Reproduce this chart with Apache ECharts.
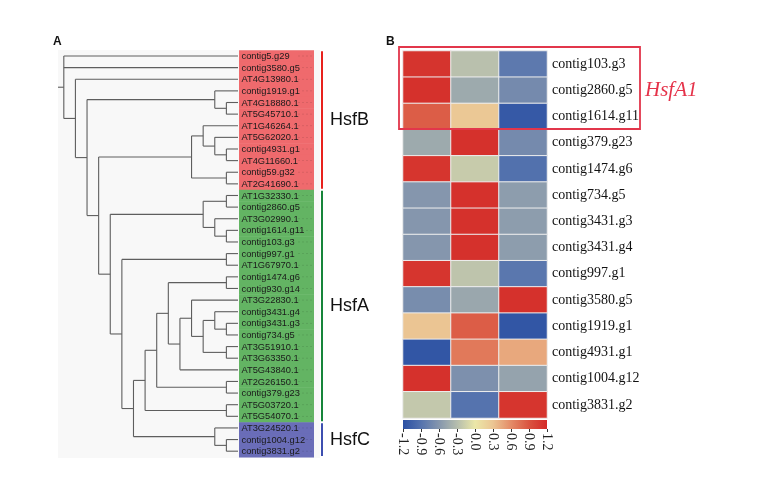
<!DOCTYPE html>
<html><head><meta charset="utf-8">
<script src="https://cdn.jsdelivr.net/npm/echarts@6/dist/echarts.min.js"></script>
<style>html,body{margin:0;padding:0;background:#fff}#c{width:759px;height:477px}</style>
</head><body><div id="c"></div>
<script>
// ---------- DATA ----------
// Dendrogram topology (nested clades), leaves in drawing order
const tree = ['contig5.g29', 'contig3580.g5',
  ['AT4G13980.1',
    [
      ['contig1919.g1', ['AT4G18880.1', 'AT5G45710.1']],
      [
        [['AT1G46264.1', ['AT5G62020.1', ['contig4931.g1', 'AT4G11660.1']]], ['contig59.g32', 'AT2G41690.1']],
        [
          [['AT1G32330.1', 'contig2860.g5'], ['AT3G02990.1', ['contig1614.g11', 'contig103.g3']]],
          [['contig997.g1', 'AT1G67970.1'],
            [
              [
                [
                  [['contig1474.g6', 'contig930.g14'],
                    [['AT3G22830.1', [['contig3431.g4', ['contig3431.g3', 'contig734.g5']], ['AT3G51910.1', 'AT3G63350.1']]], 'AT5G43840.1']
                  ],
                  ['AT2G26150.1', 'contig379.g23']
                ],
                ['AT5G03720.1', 'AT5G54070.1']
              ],
              ['AT3G24520.1', ['contig1004.g12', 'contig3831.g2']]
            ]
          ]
        ]
      ]
    ]
  ]
];
const groupNames = ['HsfB', 'HsfA', 'HsfC'];
const groupSizes = [12, 20, 3];
const groupBoxColors = ['#ef6a6d', '#63b463', '#6a6db8'];
const groupLineColors = ['#e8211d', '#17853a', '#3d4fb0'];

const heatRows = ['contig103.g3', 'contig2860.g5', 'contig1614.g11', 'contig379.g23', 'contig1474.g6',
  'contig734.g5', 'contig3431.g3', 'contig3431.g4', 'contig997.g1', 'contig3580.g5',
  'contig1919.g1', 'contig4931.g1', 'contig1004.g12', 'contig3831.g2'];
const heatCols = ['S1', 'S2', 'S3'];
const heatColA = [1.13, 1.15, 0.85, -0.45, 1.12, -0.6, -0.6, -0.6, 1.12, -0.68, 0.3, -1.15, 1.15, -0.22];
const heatColB = [-0.28, -0.45, 0.27, 1.15, -0.2, 1.15, 1.15, 1.15, -0.25, -0.47, 0.85, 0.7, -0.65, -0.9];
const heatColC = [-0.85, -0.7, -1.12, -0.7, -0.92, -0.55, -0.55, -0.55, -0.87, 1.15, -1.15, 0.45, -0.5, 1.12];
const colorbarTicks = ['-1.2', '-0.9', '-0.6', '-0.3', '0.0', '0.3', '0.6', '0.9', '1.2'];
const cmap = ['#2b50a3', '#5573ae', '#8596ad', '#b5bdad', '#ebe7a8', '#ebc593', '#e48b67', '#da5440', '#d42a28'];

// ---------- TREE LAYOUT (cladogram: x = node height, y = leaf order) ----------
const leaves = [];
const segs = [];
function lay(node) {
  if (typeof node === 'string') { leaves.push(node); return { y: leaves.length - 1, h: 0 }; }
  const ch = node.map(lay);
  const h = 1 + Math.max(...ch.map(c => c.h));
  const y = (ch[0].y + ch[ch.length - 1].y) / 2;
  segs.push([h, ch[0].y, h, ch[ch.length - 1].y]);
  ch.forEach(c => segs.push([h, c.y, c.h, c.y]));
  return { y, h };
}
const root = lay(tree);
segs.push([root.h + 0.5, root.y, root.h, root.y]);

const leafData = [];
let gi = 0, cnt = 0;
leaves.forEach((n, i) => {
  if (cnt >= groupSizes[gi]) { gi++; cnt = 0; }
  cnt++;
  leafData.push([i, gi, n]);
});
const groupData = [];
let st = 0;
groupSizes.forEach((s, g) => { groupData.push([st, st + s - 1, g]); st += s; });

const heatData = [];
heatRows.forEach((r, i) => {
  heatData.push([0, i, heatColA[i]]);
  heatData.push([1, i, heatColB[i]]);
  heatData.push([2, i, heatColC[i]]);
});

// ---------- CHART ----------
const chart = echarts.init(document.getElementById('c'), null, { renderer: 'canvas' });
const N = leaves.length;
const option = {
  animation: false,
  backgroundColor: '#fff',
  grid: [
    { left: 58, top: 50.2, width: 180, height: 406.8, show: false },
    { left: 403, top: 51, width: 144, height: 367, show: false },
    { left: 403, top: 420, width: 144, height: 9, show: true, borderWidth: 0,
      backgroundColor: { type: 'linear', x: 0, y: 0, x2: 1, y2: 0,
        colorStops: cmap.map((c, i) => ({ offset: i / (cmap.length - 1), color: c })) } }
  ],
  xAxis: [
    { gridIndex: 0, type: 'value', min: 0, max: root.h + 0.5, inverse: true, show: false },
    { gridIndex: 1, type: 'category', data: heatCols, show: false },
    { gridIndex: 2, type: 'category', data: colorbarTicks, boundaryGap: false, position: 'bottom',
      axisLine: { show: false }, splitLine: { show: false },
      axisTick: { show: true, length: 3, interval: 0, lineStyle: { color: '#333' } },
      axisLabel: { interval: 0, rotate: -90, margin: 4, fontFamily: 'Liberation Serif', fontSize: 14, color: '#222' } }
  ],
  yAxis: [
    { gridIndex: 0, type: 'value', min: -0.5, max: N - 0.5, inverse: true, show: false },
    { gridIndex: 1, type: 'category', data: heatRows, inverse: true, position: 'right',
      axisLine: { show: false }, axisTick: { show: false }, splitLine: { show: false },
      axisLabel: { margin: 5, fontFamily: 'Liberation Serif', fontSize: 14, color: '#111' } },
    { gridIndex: 2, type: 'value', show: false }
  ],
  visualMap: {
    show: false, type: 'continuous', min: -1.2, max: 1.2, seriesIndex: 3, dimension: 2,
    inRange: { color: cmap }
  },
  graphic: [
    { type: 'rect', z: -10, shape: { x: 58, y: 50, width: 262, height: 408 }, style: { fill: '#f8f8f8' } },
    { type: 'text', left: 53, top: 36, style: { text: 'A', font: 'bold 12px "Liberation Sans", Arial', fill: '#111' } },
    { type: 'text', left: 386, top: 36, style: { text: 'B', font: 'bold 12px "Liberation Sans", Arial', fill: '#111' } },
    { type: 'rect', z: 20, shape: { x: 399, y: 47, width: 241, height: 82 },
      style: { fill: 'none', stroke: '#e2364b', lineWidth: 1.8 } },
    { type: 'text', z: 20, left: 645, top: 80, style: { text: 'HsfA1', font: 'italic 21px "Liberation Serif", serif', fill: '#e5334a' } }
  ],
  series: [
    { // dendrogram branches
      type: 'custom', coordinateSystem: 'cartesian2d', xAxisIndex: 0, yAxisIndex: 0,
      data: segs, encode: { x: [0, 2], y: [1, 3] }, silent: true,
      renderItem: function (p, api) {
        const a = api.coord([api.value(0), api.value(1)]);
        const b = api.coord([api.value(2), api.value(3)]);
        return { type: 'line', shape: { x1: a[0], y1: a[1], x2: b[0], y2: b[1] },
          style: { stroke: '#5e5e5e', lineWidth: 1.1 } };
      }
    },
    { // leaf label boxes
      type: 'custom', coordinateSystem: 'cartesian2d', xAxisIndex: 0, yAxisIndex: 0,
      data: leafData, silent: true,
      renderItem: function (p, api) {
        const i = api.value(0), g = api.value(1);
        const top = api.coord([0, i - 0.5]);
        const bot = api.coord([0, i + 0.5]);
        const c = api.coord([0, i]);
        return { type: 'group', children: [
          { type: 'rect', shape: { x: c[0] + 1, y: top[1], width: 75, height: bot[1] - top[1] + 0.5 },
            style: { fill: groupBoxColors[g] } },
          { type: 'line', shape: { x1: c[0] + 60, y1: c[1], x2: c[0] + 75, y2: c[1] },
            style: { stroke: 'rgba(0,0,0,0.12)', lineWidth: 0.8, lineDash: [2, 2] } },
          { type: 'text', x: c[0] + 3.5, y: c[1] + 0.5,
            style: { text: leafData[p.dataIndex][2], font: '9.3px "Liberation Sans", Arial', fill: '#1a1a1a',
              verticalAlign: 'middle', align: 'left' } }
        ] };
      }
    },
    { // group brackets
      type: 'custom', coordinateSystem: 'cartesian2d', xAxisIndex: 0, yAxisIndex: 0,
      data: groupData, silent: true,
      renderItem: function (p, api) {
        const s = api.value(0), e = api.value(1), g = api.value(2);
        const a = api.coord([0, s - 0.5]);
        const b = api.coord([0, e + 0.5]);
        const x = a[0] + 84;
        return { type: 'group', children: [
          { type: 'line', shape: { x1: x, y1: a[1] + 1, x2: x, y2: b[1] - 1 },
            style: { stroke: groupLineColors[g], lineWidth: 2 } },
          { type: 'text', x: x + 8, y: (a[1] + b[1]) / 2,
            style: { text: groupNames[g], font: '18px "Liberation Sans", Arial', fill: '#111',
              verticalAlign: 'middle', align: 'left' } }
        ] };
      }
    },
    { // heatmap
      type: 'heatmap', xAxisIndex: 1, yAxisIndex: 1, data: heatData,
      itemStyle: { borderColor: '#eeeeee', borderWidth: 1 },
      emphasis: { disabled: true }
    }
  ]
};
chart.setOption(option);
</script>
</body></html>
